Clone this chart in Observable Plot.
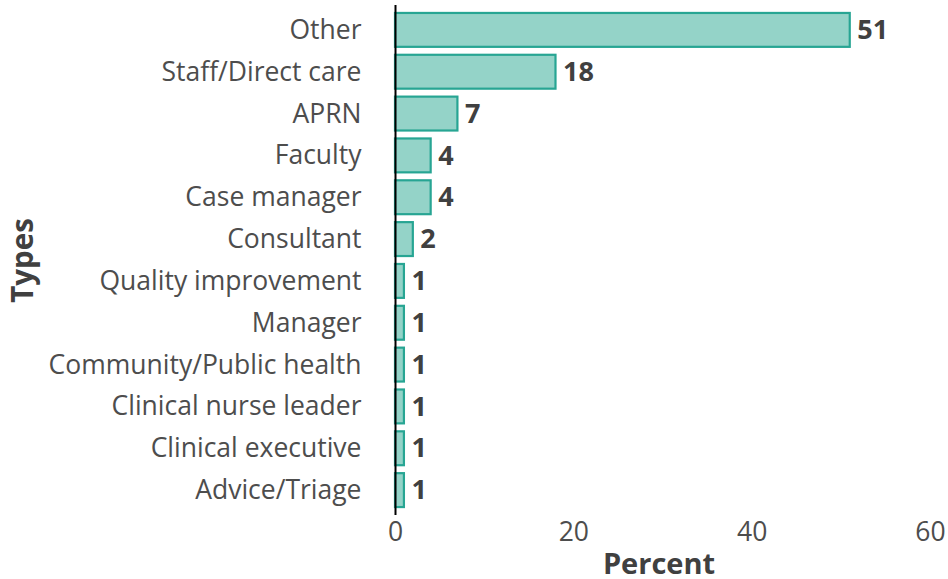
<!DOCTYPE html>
<html>
<head>
<meta charset="utf-8">
<script src="https://cdn.jsdelivr.net/npm/d3@7"></script>
<script src="https://cdn.jsdelivr.net/npm/@observablehq/plot@0.6"></script>
<style>
  html, body { margin: 0; padding: 0; background: #fff; }
</style>
</head>
<body>
<div id="chart"></div>
<script>
const types = ["Other", "Staff/Direct care", "APRN", "Faculty", "Case manager", "Consultant",
  "Quality improvement", "Manager", "Community/Public health", "Clinical nurse leader",
  "Clinical executive", "Advice/Triage"];
const percents = [51, 18, 7, 4, 4, 2, 1, 1, 1, 1, 1, 1];
const xTicks = [0, 20, 40, 60];

const data = types.map((t, i) => ({type: t, value: percents[i]}));

const chart = Plot.plot({
  width: 948,
  height: 579,
  marginTop: 5,
  marginBottom: 64,
  marginLeft: 395,
  marginRight: 18,
  style: {fontFamily: "'Open Sans', sans-serif", color: "#4d4d4d", background: "#fff"},
  x: {domain: [0, 60], ticks: xTicks, label: null},
  y: {domain: types, padding: 0.19, round: false, label: null},
  marks: [
    Plot.barX(data, {x: "value", y: "type", fill: "#94d3c8", stroke: "#27a593", strokeWidth: 2.2}),
    Plot.ruleX([0], {stroke: "#000", strokeWidth: 2}),
    Plot.text(data, {x: "value", y: "type", text: d => String(d.value), textAnchor: "start", dx: 7,
      fontWeight: "bold", fontSize: 27, fill: "#404040"}),
    Plot.axisY({tickSize: 0, tickPadding: 34, fontSize: 26.5, label: null, fill: "#4d4d4d"}),
    Plot.axisX({ticks: xTicks, tickSize: 0, tickPadding: 7, fontSize: 26.5, label: null, fill: "#4d4d4d"}),
    Plot.text(["Types"], {frameAnchor: "left", dx: -372, rotate: -90, textAnchor: "middle", lineAnchor: "middle",
      fontSize: 29.5, fontWeight: "bold", fill: "#404040"}),
    Plot.text(["Percent"], {frameAnchor: "bottom", dy: 49, dx: -4, textAnchor: "middle", lineAnchor: "middle",
      fontSize: 29, fontWeight: "bold", fill: "#404040"})
  ]
});
document.getElementById("chart").appendChild(chart);
</script>
</body>
</html>
